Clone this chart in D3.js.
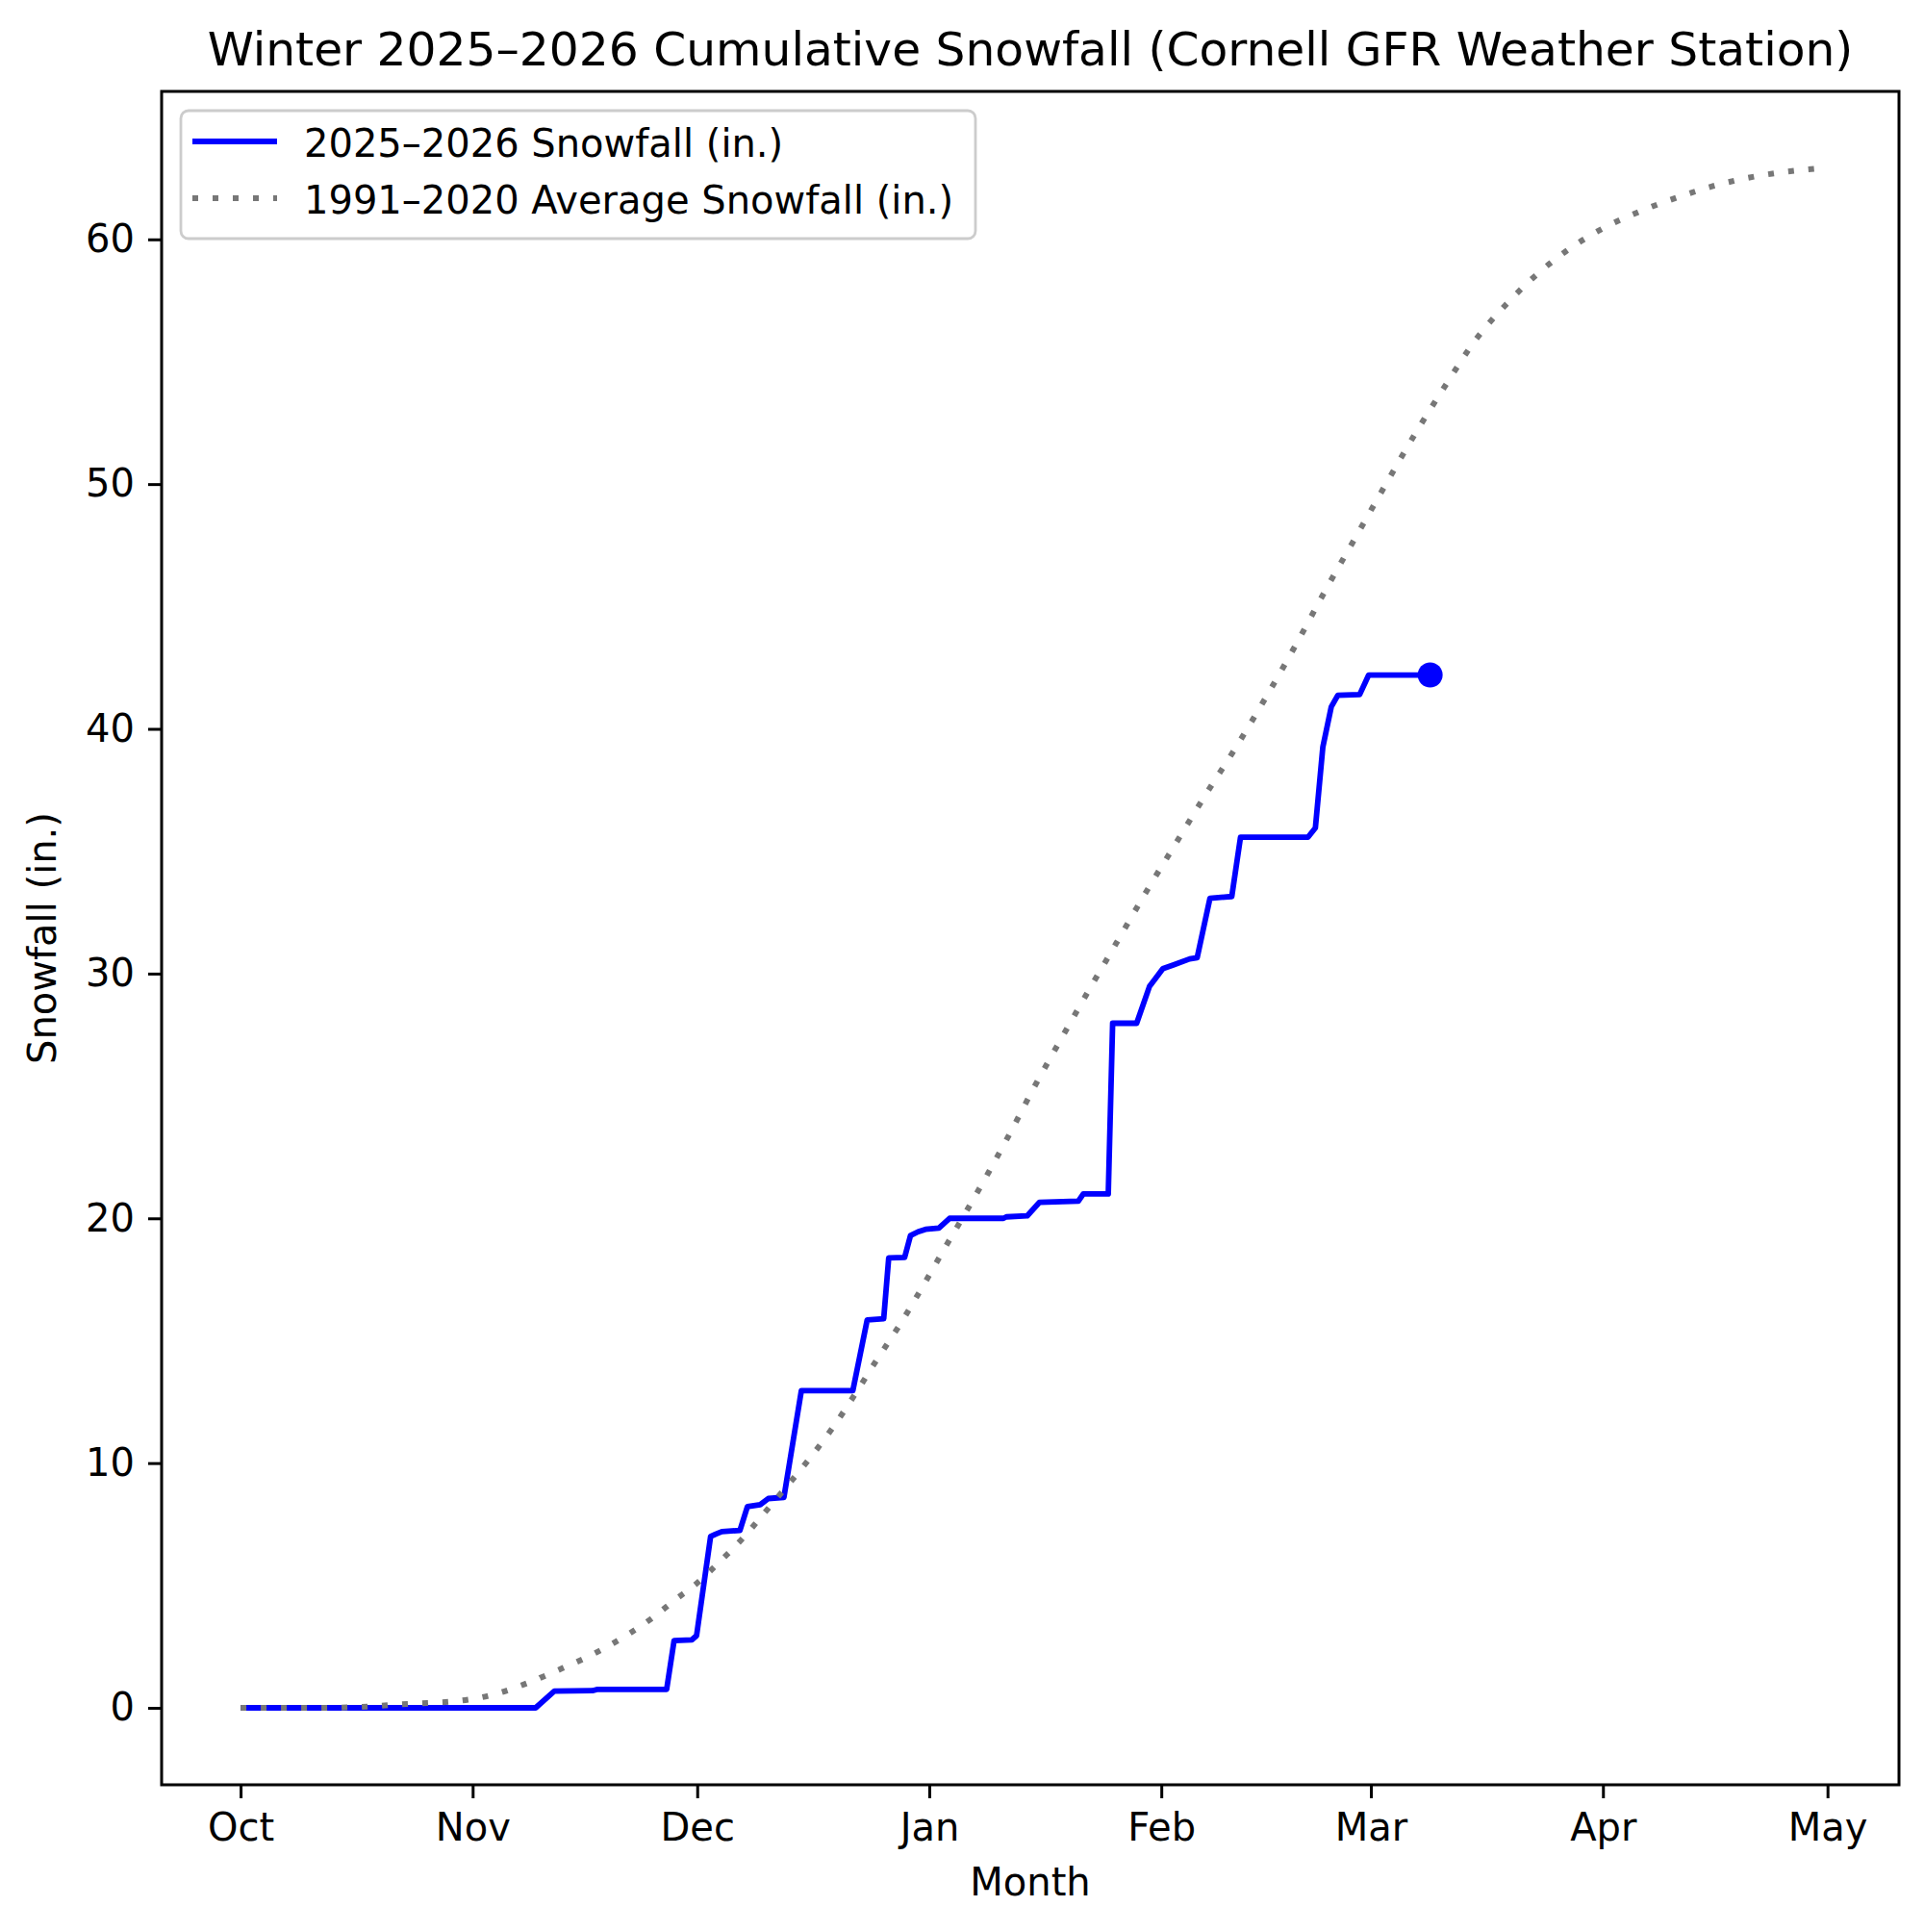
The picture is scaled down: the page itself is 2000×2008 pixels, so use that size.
<!DOCTYPE html>
<html>
<head>
<meta charset="utf-8">
<script src="https://cdn.jsdelivr.net/npm/d3@7"></script>
<style>
body { margin: 0; background: #fff; }
text { font-family: "DejaVu Sans", sans-serif; fill: #000; }
</style>
</head>
<body>
<script>
///////////////////   Data   /////////////////

// 2025-2026 season, cumulative snowfall (in.)
var seasonDates = ["2025-10-01 00","2025-11-09 10","2025-11-11 22","2025-11-17 00","2025-11-17 14",
    "2025-11-26 22","2025-11-27 22","2025-11-30 07","2025-11-30 22","2025-12-02 19","2025-12-03 12",
    "2025-12-04 07","2025-12-06 17","2025-12-07 17","2025-12-09 10","2025-12-10 12","2025-12-12 14",
    "2025-12-14 22","2025-12-21 19","2025-12-23 17","2025-12-25 22","2025-12-26 14","2025-12-28 17",
    "2025-12-29 12","2025-12-30 12","2025-12-31 12","2026-01-02 07","2026-01-03 17","2026-01-10 22",
    "2026-01-11 07","2026-01-14 02","2026-01-15 17","2026-01-20 22","2026-01-21 14","2026-01-24 22",
    "2026-01-25 12","2026-01-28 17","2026-01-30 10","2026-02-01 05","2026-02-02 14","2026-02-04 19",
    "2026-02-05 19","2026-02-07 12","2026-02-10 10","2026-02-11 14","2026-02-20 14","2026-02-21 14",
    "2026-02-22 14","2026-02-23 17","2026-02-24 14","2026-02-27 12","2026-02-28 17","2026-03-08 22"];
var seasonSnow = [0,0,0.68,0.70,0.75,
    0.75,2.75,2.78,2.95,7.0,7.1,
    7.2,7.25,8.22,8.3,8.55,8.6,
    12.96,12.96,15.85,15.9,18.38,18.4,
    19.3,19.45,19.55,19.6,20.0,20.0,
    20.06,20.1,20.65,20.7,21.0,21.0,
    27.97,27.97,29.47,30.2,30.35,30.6,
    30.65,33.08,33.15,35.57,35.57,35.95,
    39.26,40.9,41.37,41.4,42.2,42.2];

// 1991-2020 normal cumulative snowfall (in.)
var normalDates = ["2025-10-01","2025-10-11","2025-10-18","2025-10-21","2025-10-26","2025-10-29",
    "2025-11-01","2025-11-04","2025-11-07","2025-11-10","2025-11-13","2025-11-16","2025-11-19",
    "2025-11-22","2025-11-25","2025-11-28","2025-12-01","2025-12-04","2025-12-07","2025-12-10",
    "2025-12-13","2025-12-16","2025-12-19","2025-12-22","2025-12-25","2025-12-28","2025-12-31",
    "2026-01-03","2026-01-06","2026-01-09","2026-01-12","2026-01-15","2026-01-18","2026-01-22",
    "2026-01-26","2026-01-30","2026-02-03","2026-02-07","2026-02-11","2026-02-15","2026-02-19",
    "2026-02-23","2026-02-27","2026-03-03","2026-03-07","2026-03-11","2026-03-15","2026-03-19",
    "2026-03-23","2026-03-27","2026-04-01","2026-04-06","2026-04-11","2026-04-16","2026-04-21",
    "2026-04-26","2026-04-30"];
var normalSnow = [0,0,0.05,0.12,0.2,0.25,
    0.36,0.56,0.86,1.22,1.62,2.03,2.5,
    3.05,3.67,4.4,5.1,5.97,6.9,7.97,
    9.06,10.18,11.4,12.77,14.22,15.62,17.15,
    18.75,20.31,21.92,23.6,25.35,27.0,29.15,
    31.25,33.35,35.35,37.35,39.26,41.3,43.45,
    45.7,47.85,50.0,52.1,54.05,55.9,57.32,
    58.52,59.5,60.45,61.15,61.72,62.2,62.55,
    62.78,62.9];

var yTicks = [0,10,20,30,40,50,60];

var titleText = "Winter 2025\u20132026 Cumulative Snowfall (Cornell GFR Weather Station)",
    seasonLabel = "2025\u20132026 Snowfall (in.)",
    normalLabel = "1991\u20132020 Average Snowfall (in.)";


///////////////////   Parameters   /////////////////

var width = 2000, height = 2008,
    plotLeft = 168, plotRight = 1974, plotTop = 95, plotBottom = 1855,
    fontSize = 40,
    tickLen = 14,
    lineWidth = 5.8,
    dotWidth = 6,
    dotDash = "6 15",
    frameWidth = 3;

var colors = {
    "season": "#0000ff",
    "normal": "#777777",
    "legendEdge": "#cccccc"
};


////////////////	Main rendering      //////////////

var parseHour = d3.utcParse("%Y-%m-%d %H"),
    parseDay = d3.utcParse("%Y-%m-%d");

var season = seasonDates.map(function(d,i){ return {date: parseHour(d), value: seasonSnow[i]}; });
var normal = normalDates.map(function(d,i){ return {date: parseDay(d), value: normalSnow[i]}; });

// matplotlib-like 5% margins around the data
var t0 = normal[0].date, t1 = normal[normal.length-1].date,
    tPad = (t1 - t0) * 0.05;
var yMax = d3.max(normal, function(d){ return d.value; }),
    yPad = yMax * 0.05;

var x = d3.scaleUtc()
    .domain([new Date(+t0 - tPad), new Date(+t1 + tPad)])
    .range([plotLeft, plotRight]);

var y = d3.scaleLinear()
    .domain([-yPad, yMax + yPad])
    .range([plotBottom, plotTop]);

var svg = d3.select("body").append("svg")
    .attr("width", width)
    .attr("height", height);

svg.append("rect")
    .attr("width", width)
    .attr("height", height)
    .attr("fill", "#fff");

// lines (the dotted normal is drawn over the season line, as in the original)
var line = d3.line()
    .x(function(d){ return x(d.date); })
    .y(function(d){ return y(d.value); });

svg.append("path")
    .datum(season)
    .attr("fill", "none")
    .attr("stroke", colors.season)
    .attr("stroke-width", lineWidth)
    .attr("stroke-linejoin", "round")
    .attr("d", line.curve(d3.curveLinear));

svg.append("path")
    .datum(normal)
    .attr("fill", "none")
    .attr("stroke", colors.normal)
    .attr("stroke-width", dotWidth)
    .attr("stroke-dasharray", dotDash)
    .attr("d", line.curve(d3.curveMonotoneX));

var last = season[season.length-1];
svg.append("circle")
    .attr("cx", x(last.date))
    .attr("cy", y(last.value))
    .attr("r", 13)
    .attr("fill", colors.season);

// axes
var xAxis = svg.append("g")
    .attr("transform", "translate(0," + plotBottom + ")")
    .call(d3.axisBottom(x).ticks(d3.utcMonth.every(1)).tickFormat(d3.utcFormat("%b"))
        .tickSize(tickLen).tickPadding(16));

var yAxis = svg.append("g")
    .attr("transform", "translate(" + plotLeft + ",0)")
    .call(d3.axisLeft(y).tickValues(yTicks).tickSize(tickLen).tickPadding(14));

[xAxis, yAxis].forEach(function(g){
    g.select(".domain").remove();
    g.selectAll(".tick line").attr("stroke", "#000").attr("stroke-width", frameWidth);
    g.selectAll(".tick text")
        .style("font-family", "'DejaVu Sans', sans-serif")
        .style("font-size", fontSize + "px")
        .attr("fill", "#000");
});

// frame
svg.append("rect")
    .attr("x", plotLeft)
    .attr("y", plotTop)
    .attr("width", plotRight - plotLeft)
    .attr("height", plotBottom - plotTop)
    .attr("fill", "none")
    .attr("stroke", "#000")
    .attr("stroke-width", frameWidth);

// title and axis labels
svg.append("text")
    .attr("x", (plotLeft + plotRight) / 2)
    .attr("y", 68)
    .attr("text-anchor", "middle")
    .style("font-size", "48.7px")
    .text(titleText);

svg.append("text")
    .attr("x", (plotLeft + plotRight) / 2)
    .attr("y", 1970)
    .attr("text-anchor", "middle")
    .style("font-size", fontSize + "px")
    .text("Month");

svg.append("text")
    .attr("transform", "translate(58," + ((plotTop + plotBottom) / 2) + ") rotate(-90)")
    .attr("text-anchor", "middle")
    .style("font-size", fontSize + "px")
    .text("Snowfall (in.)");

// legend
var legend = svg.append("g");

legend.append("rect")
    .attr("x", 188)
    .attr("y", 115)
    .attr("width", 1014 - 188)
    .attr("height", 248 - 115)
    .attr("rx", 8)
    .attr("fill", "#fff")
    .attr("fill-opacity", 0.8)
    .attr("stroke", colors.legendEdge)
    .attr("stroke-width", 2.8);

var legendRows = [
    {label: seasonLabel, color: colors.season, dash: null, width: lineWidth, y: 147},
    {label: normalLabel, color: colors.normal, dash: dotDash, width: dotWidth, y: 206}
];

legendRows.forEach(function(r){
    legend.append("line")
        .attr("x1", 200).attr("x2", 288)
        .attr("y1", r.y).attr("y2", r.y)
        .attr("stroke", r.color)
        .attr("stroke-width", r.width)
        .attr("stroke-dasharray", r.dash);
    legend.append("text")
        .attr("x", 316)
        .attr("y", r.y + 16)
        .style("font-size", fontSize + "px")
        .text(r.label);
});
</script>
</body>
</html>
